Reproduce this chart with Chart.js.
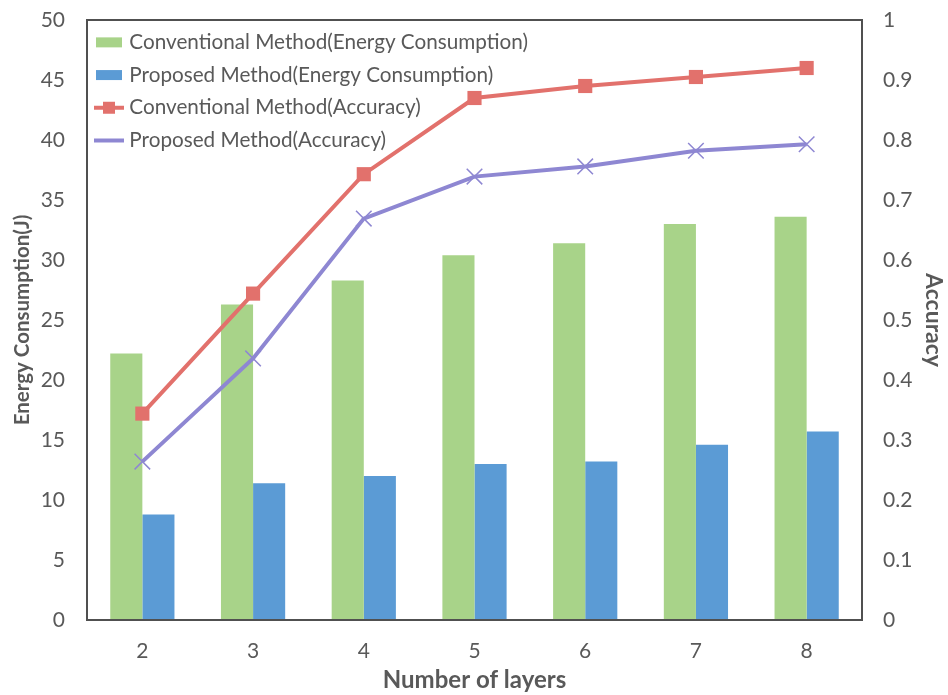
<!DOCTYPE html>
<html>
<head>
<meta charset="utf-8">
<title>Energy consumption and accuracy</title>
<script src="https://cdn.jsdelivr.net/npm/chart.js@4.4.1/dist/chart.umd.min.js"></script>
<style>
  html, body { margin: 0; padding: 0; background: #fff; }
  #wrap { width: 948px; height: 695px; }
</style>
</head>
<body>
<div id="wrap"><canvas id="chart"></canvas></div>
<script>
// values
const layers = ['2', '3', '4', '5', '6', '7', '8'];
const convEnergy = [22.2, 26.3, 28.3, 30.4, 31.4, 33.0, 33.6];
const propEnergy = [8.8, 11.4, 12.0, 13.0, 13.2, 14.6, 15.7];
const convAccuracy = [0.344, 0.544, 0.743, 0.87, 0.89, 0.905, 0.92];
const propAccuracy = [0.264, 0.436, 0.669, 0.739, 0.756, 0.782, 0.793];

const GREEN = '#a8d389';
const BLUE = '#5b9bd5';
const RED = '#e2716c';
const PURPLE = '#8e87d2';
const TEXT = '#595959';

Chart.defaults.font.family = 'Lato, "Open Sans", sans-serif';
Chart.defaults.color = TEXT;

// small legend icons, excel style
const makeIcon = (kind, color) => {
  const c = document.createElement('canvas');
  c.width = 30;
  c.height = 14;
  const g = c.getContext('2d');
  g.fillStyle = color;
  g.strokeStyle = color;
  if (kind === 'box') {
    g.fillRect(2, 2, 26, 10);
  } else {
    g.lineWidth = 4;
    g.beginPath();
    g.moveTo(0, 7);
    g.lineTo(30, 7);
    g.stroke();
    if (kind === 'lineSquare') g.fillRect(9, 1, 12, 12);
  }
  return c;
};

const frame = {
  id: 'frame',
  afterDatasetsDraw(chart) {
    const { ctx, chartArea: a } = chart;
    ctx.save();
    ctx.strokeStyle = '#505050';
    ctx.lineWidth = 2;
    ctx.strokeRect(a.left, a.top, a.right - a.left, a.bottom - a.top);
    ctx.restore();
  }
};

const icons = [
  makeIcon('box', GREEN),
  makeIcon('box', BLUE),
  makeIcon('lineSquare', RED),
  makeIcon('line', PURPLE)
];

new Chart(document.getElementById('chart'), {
  type: 'bar',
  data: {
    labels: layers,
    datasets: [
      {
        label: 'Conventional Method(Energy Consumption)',
        data: convEnergy,
        backgroundColor: GREEN,
        yAxisID: 'y',
        order: 3
      },
      {
        label: 'Proposed Method(Energy Consumption)',
        data: propEnergy,
        backgroundColor: BLUE,
        yAxisID: 'y',
        order: 3
      },
      {
        type: 'line',
        label: 'Conventional Method(Accuracy)',
        data: convAccuracy,
        borderColor: RED,
        backgroundColor: RED,
        borderWidth: 4,
        pointStyle: 'rect',
        pointRadius: 10,
        pointBorderWidth: 0,
        yAxisID: 'y1',
        order: 1
      },
      {
        type: 'line',
        label: 'Proposed Method(Accuracy)',
        data: propAccuracy,
        borderColor: PURPLE,
        backgroundColor: PURPLE,
        borderWidth: 4,
        pointStyle: 'crossRot',
        pointRadius: 11,
        pointBorderWidth: 1.5,
        yAxisID: 'y1',
        order: 2
      }
    ]
  },
  options: {
    responsive: true,
    maintainAspectRatio: false,
    animation: false,
    layout: { padding: { top: 20, left: 0, right: 0, bottom: 0 } },
    datasets: {
      bar: { categoryPercentage: 0.58, barPercentage: 1.0 }
    },
    plugins: {
      tooltip: { enabled: false },
      legend: {
        position: 'chartArea',
        align: 'start',
        title: { display: true, text: ' ', font: { size: 10 }, padding: { top: 8, bottom: 0 } },
        labels: {
          usePointStyle: true,
          pointStyleWidth: 20,
          padding: 12,
          color: TEXT,
          font: { size: 20.7 },
          generateLabels: chart => chart.data.datasets.map((ds, i) => ({
            text: ds.label,
            pointStyle: icons[i],
            fillStyle: ds.backgroundColor,
            strokeStyle: ds.backgroundColor,
            lineWidth: 0,
            fontColor: TEXT,
            hidden: false,
            datasetIndex: i
          }))
        }
      }
    },
    scales: {
      x: {
        grid: { display: false, tickLength: 19 },
        border: { display: false },
        ticks: { padding: 0, font: { size: 21 }, color: TEXT },
        title: {
          display: true,
          text: 'Number of layers',
          font: { size: 24, weight: 'bold' },
          color: TEXT,
          padding: { top: 4, bottom: 0 }
        },
        afterFit: s => { s.height = 75; }
      },
      y: {
        position: 'left',
        min: 0,
        max: 50,
        grid: { display: false, tickLength: 22 },
        border: { display: false },
        ticks: { stepSize: 5, padding: 0, font: { size: 21 }, color: TEXT },
        title: {
          display: true,
          text: 'Energy Consumption(J)',
          font: { size: 20.5, weight: 'bold' },
          color: TEXT,
          padding: { top: 10, bottom: 0 }
        },
        afterFit: s => { s.width = 87; }
      },
      y1: {
        position: 'right',
        min: 0,
        max: 1,
        grid: { display: false, tickLength: 21 },
        border: { display: false },
        ticks: {
          stepSize: 0.1,
          padding: 0,
          font: { size: 21 },
          color: TEXT,
          callback: v => String(Math.round(v * 10) / 10)
        },
        title: {
          display: true,
          text: 'Accuracy',
          font: { size: 23, weight: 'bold' },
          color: TEXT,
          padding: { top: 1, bottom: 0 }
        },
        afterFit: s => { s.width = 86; }
      }
    }
  },
  plugins: [frame]
});
</script>
</body>
</html>
